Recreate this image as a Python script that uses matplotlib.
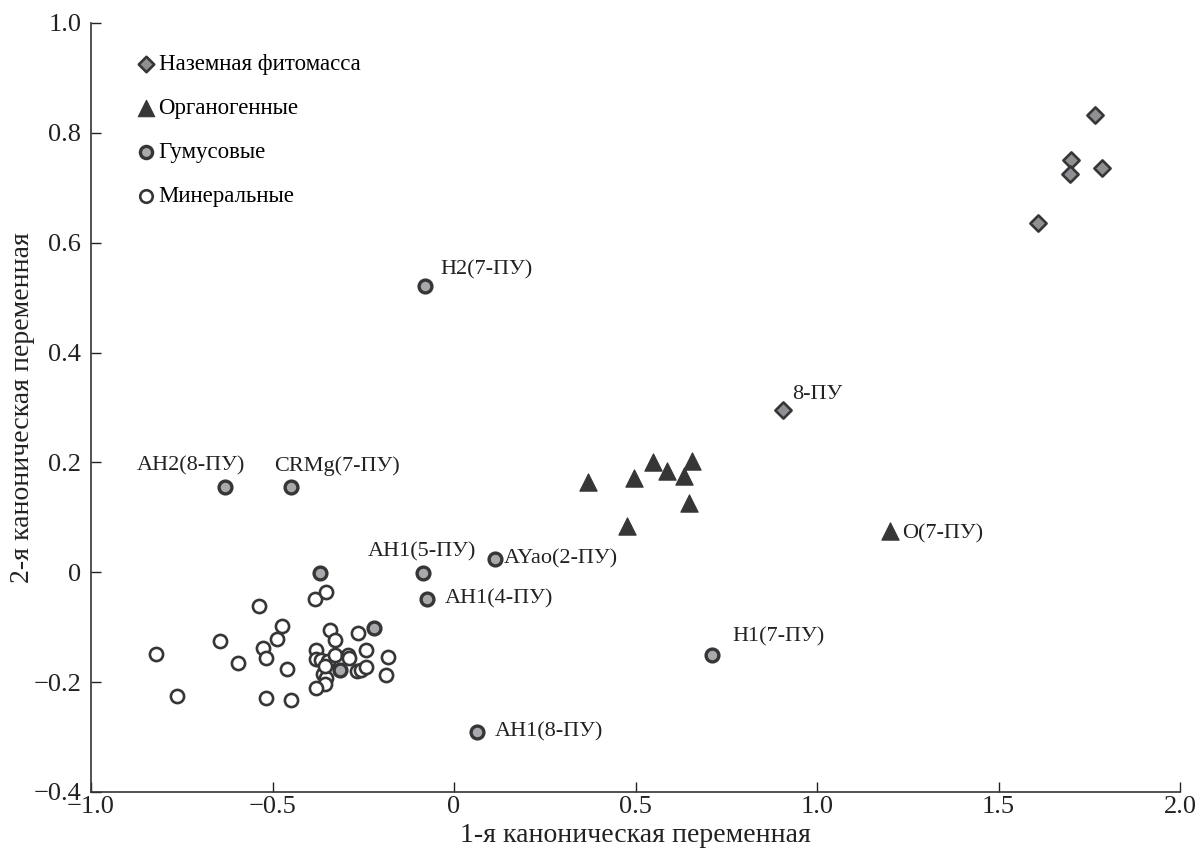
import numpy as np
import matplotlib as mpl
mpl.use('Agg')
import matplotlib.pyplot as plt
from matplotlib.ticker import FuncFormatter

plt.rcParams['font.family'] = ['Liberation Serif', 'DejaVu Serif']

#%% data
# Наземная фитомасса
phyto_x = [1.766, 1.699, 1.696, 1.785, 1.610, 0.905]
phyto_y = [0.833, 0.750, 0.725, 0.736, 0.636, 0.295]
phyto_lab = ['', '', '', '', '', '8-ПУ']

# Органогенные
org_x = [0.368, 0.496, 0.547, 0.588, 0.657, 0.634, 0.648, 0.476, 1.200]
org_y = [0.165, 0.171, 0.200, 0.185, 0.203, 0.175, 0.127, 0.084, 0.075]
org_lab = ['', '', '', '', '', '', '', '', 'O(7-ПУ)']

# Гумусовые
hum_x = [-0.080, -0.630, -0.450, -0.085, 0.113, -0.074, 0.712, 0.062,
         -0.368, -0.220, -0.314]
hum_y = [0.522, 0.155, 0.155, -0.001, 0.025, -0.048, -0.150, -0.290,
         -0.002, -0.101, -0.177]
hum_lab = ['H2(7-ПУ)', 'AH2(8-ПУ)', 'CRMg(7-ПУ)', 'AH1(5-ПУ)', 'AYao(2-ПУ)',
           'AH1(4-ПУ)', 'H1(7-ПУ)', 'AH1(8-ПУ)', '', '', '']

# Минеральные
min_x = [-0.822, -0.763, -0.645, -0.595, -0.537, -0.526, -0.519, -0.519,
         -0.488, -0.473, -0.459, -0.448, -0.384, -0.352, -0.341, -0.329,
         -0.381, -0.379, -0.366, -0.348, -0.329, -0.293, -0.290, -0.265,
         -0.242, -0.183, -0.186, -0.361, -0.352, -0.356, -0.379, -0.268,
         -0.256, -0.242, -0.356]
min_y = [-0.148, -0.226, -0.125, -0.165, -0.061, -0.137, -0.156, -0.228,
         -0.121, -0.097, -0.176, -0.233, -0.048, -0.035, -0.105, -0.124,
         -0.142, -0.158, -0.159, -0.162, -0.150, -0.150, -0.156, -0.111,
         -0.142, -0.155, -0.187, -0.186, -0.192, -0.204, -0.210, -0.180,
         -0.177, -0.172, -0.170]

# label offsets in points, alignment
lab_pos = {
    '8-ПУ': (7, 11, 'left'),
    'O(7-ПУ)': (9, -2, 'left'),
    'H2(7-ПУ)': (11, 11, 'left'),
    'AH2(8-ПУ)': (-25, 15, 'center'),
    'CRMg(7-ПУ)': (-12, 15, 'left'),
    'AH1(5-ПУ)': (-1, 15, 'center'),
    'AYao(2-ПУ)': (6, 0, 'left'),
    'AH1(4-ПУ)': (13, 0, 'left'),
    'H1(7-ПУ)': (14, 13, 'left'),
    'AH1(8-ПУ)': (13, 0, 'left'),
}

edge = '#363636'

fig = plt.figure(figsize=(12, 8.5), dpi=100)
ax = fig.add_axes([91/1200, 58/850, 1089/1200, 769/850])

ax.scatter(min_x, min_y, s=90, facecolor='white', edgecolor=edge, linewidth=1.9,
           label='Минеральные', zorder=3)
ax.scatter(hum_x, hum_y, s=85, facecolor='#a9a9ad', edgecolor=edge, linewidth=2.4,
           label='Гумусовые', zorder=4)
ax.scatter(org_x, org_y, s=155, marker='^', facecolor=edge, edgecolor=edge,
           linewidth=0.8, label='Органогенные', zorder=3)
ax.scatter(phyto_x, phyto_y, s=68, marker='D', facecolor='#8f8f94', edgecolor=edge,
           linewidth=1.9, label='Наземная фитомасса', zorder=3)

for xs, ys, labs in [(phyto_x, phyto_y, phyto_lab), (org_x, org_y, org_lab),
                     (hum_x, hum_y, hum_lab)]:
    for x, y, t in zip(xs, ys, labs):
        if not t:
            continue
        dx, dy, ha = lab_pos[t]
        ax.annotate(t, (x, y), xytext=(dx, dy), textcoords='offset points',
                    ha=ha, va='center', fontsize=16, color='#222222')

ax.set_xlim(-1.0, 2.0)
ax.set_ylim(-0.4, 1.0)
ax.set_xticks([-1.0, -0.5, 0, 0.5, 1.0, 1.5, 2.0])
ax.set_yticks([-0.4, -0.2, 0, 0.2, 0.4, 0.6, 0.8, 1.0])

def fmt(v, pos):
    if abs(v) < 1e-9:
        return '0'
    return '{:.1f}'.format(v).replace('-', '\u2212')

ax.xaxis.set_major_formatter(FuncFormatter(fmt))
ax.yaxis.set_major_formatter(FuncFormatter(fmt))
ax.tick_params(direction='in', length=7, width=1, labelsize=19, colors='#222222')
ax.tick_params(axis='y', pad=7)
ax.tick_params(axis='x', pad=3)
for s in ['top', 'right']:
    ax.spines[s].set_visible(False)
for s in ['left', 'bottom']:
    ax.spines[s].set_color('#333333')
    ax.spines[s].set_linewidth(1.2)

ax.set_xlabel('1-я каноническая переменная', fontsize=20, color='#222222')
ax.set_ylabel('2-я каноническая переменная', fontsize=20, color='#222222')
ax.xaxis.set_label_coords(0.5, -0.040)
ax.yaxis.set_label_coords(-0.051, 0.5)

h, l = ax.get_legend_handles_labels()
leg = ax.legend(h[::-1], l[::-1], loc='upper left', bbox_to_anchor=(0.021, 0.987),
                frameon=False, fontsize=16.5, handletextpad=0.05, handlelength=1.0,
                labelspacing=1.0, markerscale=0.95)

plt.savefig('out.png', dpi=100)
